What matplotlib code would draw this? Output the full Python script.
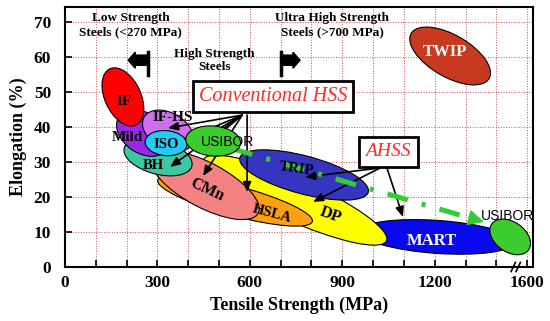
import matplotlib
matplotlib.use('Agg')
import matplotlib.pyplot as plt
import matplotlib.transforms as mtransforms
from matplotlib.patches import Ellipse, FancyArrow

plt.rcParams['font.family'] = ['Liberation Serif', 'DejaVu Serif']

# ----------------------- data -----------------------
# steel families: centre of each property window (tensile strength MPa, elongation %)
steels = ['TWIP', 'MART', 'DP', 'HSLA', 'CMn', 'TRIP', 'BH', 'Mild', 'IF-HS', 'IF', 'ISO', 'USIBOR', 'USIBOR ']
strength = [1250, 1208, 747, 552, 455, 776, 302, 253, 334, 188, 328, 481, 1445]
elongation = [60.3, 8.6, 19.1, 18.9, 23.4, 26.3, 31.4, 38.3, 38.9, 48.6, 35.4, 36.0, 8.6]

# where each family name is written
label_x = [1234, 1192, 860, 672, 461, 753, 286, 201, 351, 192, 328, 529, 1435]
label_y = [61.4, 7.4, 14.9, 15.1, 22.0, 28.0, 28.9, 36.9, 42.6, 47.4, 34.9, 35.7, 14.6]

# strength class limits (MPa)
low_limit = 270
uhss_limit = 700

# arrows from the "Conventional HSS" box
conv_box = (675, 48.6)
conv_from_x = [575, 575, 575, 575, 575, 575, 591]
conv_from_y = [43.4] * 7
conv_to_x = [334, 383, 438, 487, 341, 448, 591]
conv_to_y = [39.7, 36.3, 36.3, 36.9, 28.6, 26.0, 21.4]

# arrows from the "AHSS" box
ahss_box = (1049, 32.9)
ahss_from_x = [1023, 1023, 1045]
ahss_from_y = [28.3, 28.3, 28.3]
ahss_to_x = [779, 805, 1097]
ahss_to_y = [25.7, 18.6, 14.3]

# USIBOR before -> after hot stamping
usibor_start = (480.5, 35.4)
usibor_base = (1315, 14.0)
usibor_tip = (1360, 12.9)

xtick_pos = [0, 300, 600, 900, 1200, 1500]
xtick_lab = ['0', '300', '600', '900', '1200', '1600']
ytick_pos = [0, 10, 20, 30, 40, 50, 60, 70]

# ----------------------- styles -----------------------
# ellipse size in pixels and tilt in degrees (screen space)
ell_w = [90, 155, 200, 160, 120, 133, 70, 58, 55, 62, 42, 55, 45]
ell_h = [42, 33, 42, 30, 45, 38, 34, 40, 36, 36, 25, 30, 30]
ell_ang = [-30, -4, -24, -15, -28, -15, -15, -35, -30, -65, -5, -5, -35]
ell_col = ['#c83a20', '#0a0af0', '#ffff00', '#ffa010', '#f58282', '#3535c0', '#3cc8a0',
           '#9a28e8', '#d070f0', '#ff0000', '#22ccf5', '#3dcc2e', '#3dcc2e']
ell_z = [2, 2, 3, 4, 5, 5, 6, 7, 8, 9, 9, 11, 11]

lab_size = [12, 12, 12, 10.5, 11.5, 10.5, 10.5, 11, 11, 11, 10.5, 10, 10]
lab_rot = [0, 0, -20, -15, -25, -8, 0, 0, 0, 0, 0, 0, 0]
lab_col = ['white', 'white'] + ['black'] * 11
lab_sans = [False] * 11 + [True, True]

fig = plt.figure(figsize=(5.5, 3.21), dpi=100)
ax = fig.add_axes([65 / 550, 54 / 321, 468 / 550, 260 / 321])
ax.set_xlim(0, 1519)
ax.set_ylim(0, 74.3)

# ----------------------- ellipses -----------------------
for i in range(len(steels)):
    tr = mtransforms.ScaledTranslation(strength[i], elongation[i], ax.transData)
    e = Ellipse((0, 0), ell_w[i], ell_h[i], angle=ell_ang[i], transform=tr,
                facecolor=ell_col[i], edgecolor='black', lw=0.8, zorder=ell_z[i])
    ax.add_patch(e)
    if lab_sans[i]:
        ax.text(label_x[i], label_y[i], steels[i].strip(), family='Liberation Sans',
                fontsize=lab_size[i], ha='center', va='center', color=lab_col[i], zorder=12)
    else:
        ax.text(label_x[i], label_y[i], steels[i], fontsize=lab_size[i], fontweight='bold',
                rotation=lab_rot[i], rotation_mode='anchor', ha='center', va='center',
                color=lab_col[i], zorder=12)

# ----------------------- USIBOR dashed arrow -----------------------
ax.plot([usibor_start[0], usibor_base[0]], [usibor_start[1], usibor_base[1]],
        color='#33cc33', lw=3.6, linestyle=(6.84, (4.2, 2.9, 0.8, 2.9)),
        dash_capstyle='butt', zorder=10.5)
ax.annotate('', xy=usibor_tip, xytext=usibor_base,
            arrowprops=dict(arrowstyle='-|>,head_length=1.0,head_width=0.5',
                            color='#33cc33', lw=1, shrinkA=0, shrinkB=0,
                            mutation_scale=10), zorder=10.5)

# ----------------------- callout boxes -----------------------
arw = dict(arrowstyle='-|>,head_length=0.6,head_width=0.25', color='black',
           lw=1.2, shrinkA=0, shrinkB=0, mutation_scale=10)
for i in range(len(conv_to_x)):
    ax.annotate('', xy=(conv_to_x[i], conv_to_y[i]),
                xytext=(conv_from_x[i], conv_from_y[i]), arrowprops=arw, zorder=10)
for i in range(len(ahss_to_x)):
    ax.annotate('', xy=(ahss_to_x[i], ahss_to_y[i]),
                xytext=(ahss_from_x[i], ahss_from_y[i]), arrowprops=arw, zorder=10)

ax.text(conv_box[0], conv_box[1], 'Conventional HSS', color='#ff2a2a', style='italic',
        fontsize=14.5, ha='center', va='center', zorder=13,
        bbox=dict(boxstyle='square,pad=0.3', fc='white', ec='black', lw=2))
ax.text(ahss_box[0], ahss_box[1], 'AHSS', color='#ff2a2a', style='italic',
        fontsize=14, ha='center', va='center', zorder=13,
        bbox=dict(boxstyle='square,pad=0.35', fc='white', ec='black', lw=2))

# ----------------------- strength classes -----------------------
ax.text(214, 69.1, 'Low Strength\nSteels (<270 MPa)', fontsize=9.5, fontweight='bold',
        ha='center', va='center', linespacing=1.2)
ax.text(484, 59.0, 'High Strength\nSteels', fontsize=9.5, fontweight='bold',
        ha='center', va='center', linespacing=1.2)
ax.text(867, 69.1, 'Ultra High Strength\nSteels (>700 MPa)', fontsize=9.5, fontweight='bold',
        ha='center', va='center', linespacing=1.2)

ax.plot([low_limit, low_limit], [54.9, 61.4], color='black', lw=2.5, zorder=3)
ax.plot([uhss_limit, uhss_limit], [54.9, 61.4], color='black', lw=2.5, zorder=3)
ax.add_patch(FancyArrow(low_limit, 59.1, -65, 0, width=2.9, head_width=4.6,
                        head_length=23, length_includes_head=True, color='black', zorder=3))
ax.add_patch(FancyArrow(uhss_limit, 59.1, 63, 0, width=2.9, head_width=4.6,
                        head_length=23, length_includes_head=True, color='black', zorder=3))

# ----------------------- axes -----------------------
ax.set_xticks(xtick_pos)
ax.set_xticklabels(xtick_lab)
ax.set_xticks(range(0, 1600, 100), minor=True)
ax.set_yticks(ytick_pos)
ax.tick_params(which='both', direction='in', length=5, width=1.2, top=False, right=False)
ax.tick_params(axis='y', pad=10)
ax.tick_params(axis='x', pad=6)
for lab in ax.get_xticklabels() + ax.get_yticklabels():
    lab.set_fontsize(12.5)
    lab.set_fontweight('bold')

ax.set_axisbelow(True)
ax.grid(which='both', axis='x', color='#d05050', ls=':', lw=0.7)
ax.grid(which='major', axis='y', color='#d05050', ls=':', lw=0.7)
for s in ax.spines.values():
    s.set_linewidth(1.5)

# axis break marks
ax.plot([1448, 1462], [-1.3, 1.3], color='black', lw=1.2, clip_on=False, zorder=20)
ax.plot([1464, 1478], [-1.3, 1.3], color='black', lw=1.2, clip_on=False, zorder=20)

ax.set_xlabel('Tensile Strength (MPa)', fontsize=13, fontweight='bold', labelpad=4)
ax.set_ylabel('Elongation (%)', fontsize=13, fontweight='bold', labelpad=5)

fig.savefig('out.png', dpi=100)
